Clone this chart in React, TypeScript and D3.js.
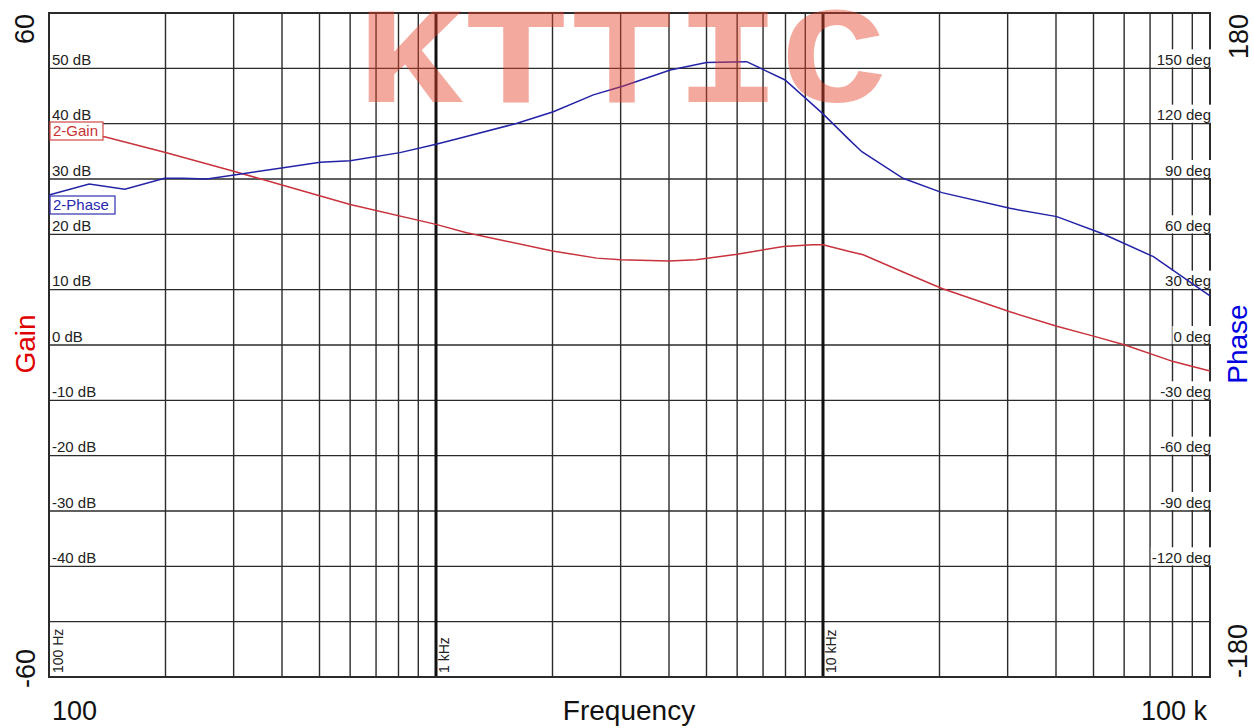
import * as d3 from "d3";

// gain trace (2-Gain)
const gainFreq = [100, 140, 200, 300, 400, 600, 1000, 1200, 2000, 2600, 3000, 4000, 4700, 6000, 7900, 9400, 10000, 11700, 12700, 16100, 20300, 30400, 40200, 50000, 60300, 80400, 100000];
const gainDb = [38.7, 37.6, 34.8, 31.4, 28.9, 25.4, 21.8, 20.3, 17.0, 15.7, 15.4, 15.2, 15.4, 16.4, 17.8, 18.1, 18.1, 16.9, 16.3, 13.2, 10.2, 6.0, 3.4, 1.6, 0.0, -3.0, -4.7];

// phase trace (2-Phase)
const phaseFreq = [100, 127, 157, 199, 222, 256, 301, 403, 502, 600, 807, 1000, 1150, 1620, 2010, 2550, 3050, 4030, 5000, 6350, 7980, 10000, 11700, 12600, 16100, 20300, 30400, 40200, 53000, 71400, 100000];
const phaseDeg = [81.3, 87.3, 84.4, 90.4, 90.4, 90.0, 92.2, 96.1, 99.1, 99.9, 104.3, 108.8, 112.1, 120.2, 126.5, 135.6, 140.4, 149.1, 153.1, 153.6, 143.7, 125.3, 111.2, 104.8, 90.4, 82.6, 74.1, 69.6, 60.2, 47.9, 26.6];

const gainTicks = [50, 40, 30, 20, 10, 0, -10, -20, -30, -40];
const phaseTicks = [150, 120, 90, 60, 30, 0, -30, -60, -90, -120];
const decadeLabels = [
  { f: 100, label: "100 Hz" },
  { f: 1000, label: "1 kHz" },
  { f: 10000, label: "10 kHz" },
];

const W = 1254;
const H = 728;
const PLOT = { left: 49, top: 13, right: 1210, bottom: 677 };
const FONT = "'Liberation Sans', Arial, sans-serif";
const GRID = "#2b2b2b";
const RED = "#c8323c";
const BLUE = "#2323a8";

// rough Liberation Sans advance widths, for label backgrounds
function textWidth(s: string, size: number) {
  let w = 0;
  for (const ch of s) {
    if (ch === " ") w += 0.278;
    else if (ch === "-") w += 0.333;
    else w += 0.556;
  }
  return w * size;
}

export default function App() {
  const x = d3.scaleLog().domain([100, 100000]).range([PLOT.left, PLOT.right]);
  const yGain = d3.scaleLinear().domain([-60, 60]).range([PLOT.bottom, PLOT.top]);
  const yPhase = d3.scaleLinear().domain([-180, 180]).range([PLOT.bottom, PLOT.top]);

  const hGrid = d3.range(-50, 60, 10);
  const vGrid = x.ticks().filter((f) => f > 100 && f < 100000);

  const gainPts = gainFreq.map((f, i) => [f, gainDb[i]] as [number, number]);
  const phasePts = phaseFreq.map((f, i) => [f, phaseDeg[i]] as [number, number]);

  const gainLine = d3
    .line<[number, number]>()
    .x((d) => x(d[0]))
    .y((d) => yGain(d[1]));
  const phaseLine = d3
    .line<[number, number]>()
    .x((d) => x(d[0]))
    .y((d) => yPhase(d[1]));

  const isDecade = (f: number) => Math.abs(Math.log10(f) - Math.round(Math.log10(f))) < 1e-9;

  return (
    <svg width={W} height={H} style={{ position: "absolute", left: 0, top: 0, background: "#fff" }} fontFamily={FONT}>
      <rect x={0} y={0} width={W} height={H} fill="#fff" />

      {/* grid */}
      {hGrid.map((v) => (
        <line key={`h${v}`} x1={PLOT.left} x2={PLOT.right} y1={yGain(v)} y2={yGain(v)} stroke={GRID} strokeWidth={1.4} />
      ))}
      {vGrid.map((f) => (
        <line
          key={`v${f}`}
          x1={x(f)}
          x2={x(f)}
          y1={PLOT.top}
          y2={PLOT.bottom}
          stroke={isDecade(f) ? "#111" : GRID}
          strokeWidth={isDecade(f) ? 3 : 1.4}
        />
      ))}
      <rect
        x={PLOT.left}
        y={PLOT.top}
        width={PLOT.right - PLOT.left}
        height={PLOT.bottom - PLOT.top}
        fill="none"
        stroke={GRID}
        strokeWidth={2}
      />

      {/* gain labels, inside left */}
      {gainTicks.map((v) => (
        <text key={`g${v}`} x={52} y={yGain(v) - 3.5} fontSize={15} fill="#222">
          {v} dB
        </text>
      ))}

      {/* phase labels, inside right, on white */}
      {phaseTicks.map((v) => {
        const s = `${v} deg`;
        const w = textWidth(s, 15);
        const yy = yPhase(v);
        return (
          <g key={`p${v}`}>
            <rect x={PLOT.right + 1 - w - 1} y={yy - 19} width={w + 1} height={18} fill="#fff" />
            <text x={PLOT.right + 1} y={yy - 3.5} fontSize={15} fill="#222" textAnchor="end">
              {s}
            </text>
          </g>
        );
      })}

      {/* decade labels along the bottom, vertical */}
      {decadeLabels.map((d) => (
        <text
          key={d.label}
          transform={`translate(${x(d.f) + (d.f === 100 ? 14 : 13)},${PLOT.bottom - 4}) rotate(-90)`}
          fontSize={14}
          fill="#222"
        >
          {d.label}
        </text>
      ))}

      {/* traces */}
      <path d={gainLine(gainPts) ?? undefined} fill="none" stroke={RED} strokeWidth={1.5} />
      <path d={phaseLine(phasePts) ?? undefined} fill="none" stroke={BLUE} strokeWidth={1.5} />

      {/* trace tags */}
      <rect x={50} y={122} width={53} height={18} fill="#fff" stroke="#d04848" strokeWidth={1.2} />
      <text x={53} y={136} fontSize={15} fill="#c83232">
        2-Gain
      </text>
      <rect x={50} y={196} width={65} height={18} fill="#fff" stroke="#3030b0" strokeWidth={1.2} />
      <text x={53} y={210} fontSize={15} fill="#2828b0">
        2-Phase
      </text>

      {/* outer axis labels */}
      <text transform="translate(34,14) rotate(-90)" fontSize={27} textAnchor="end" fill="#111">
        60
      </text>
      <text transform="translate(35,688) rotate(-90)" fontSize={27} textAnchor="start" fill="#111">
        -60
      </text>
      <text transform="translate(35,344) rotate(-90)" fontSize={28} textAnchor="middle" fill="#e00000">
        Gain
      </text>
      <text transform="translate(1248,14) rotate(-90)" fontSize={27} textAnchor="end" fill="#111">
        180
      </text>
      <text transform="translate(1247,678) rotate(-90)" fontSize={27} textAnchor="start" fill="#111">
        -180
      </text>
      <text transform="translate(1247,344) rotate(-90)" fontSize={28} textAnchor="middle" fill="#0000e0">
        Phase
      </text>

      <text x={52} y={720} fontSize={27} fill="#111">
        100
      </text>
      <text x={1207} y={720} fontSize={27} textAnchor="end" fill="#111">
        100 k
      </text>
      <text x={629} y={720} fontSize={28} textAnchor="middle" fill="#111">
        Frequency
      </text>

      {/* watermark */}
      <text
        x={622}
        y={102}
        fontSize={137}
        fontWeight="bold"
        fontFamily="'Liberation Mono', 'Courier New', monospace"
        textAnchor="middle"
        textLength={530}
        lengthAdjust="spacingAndGlyphs"
        fill="#e7422c"
        opacity={0.45}
      >
        KTTIC
      </text>
    </svg>
  );
}
